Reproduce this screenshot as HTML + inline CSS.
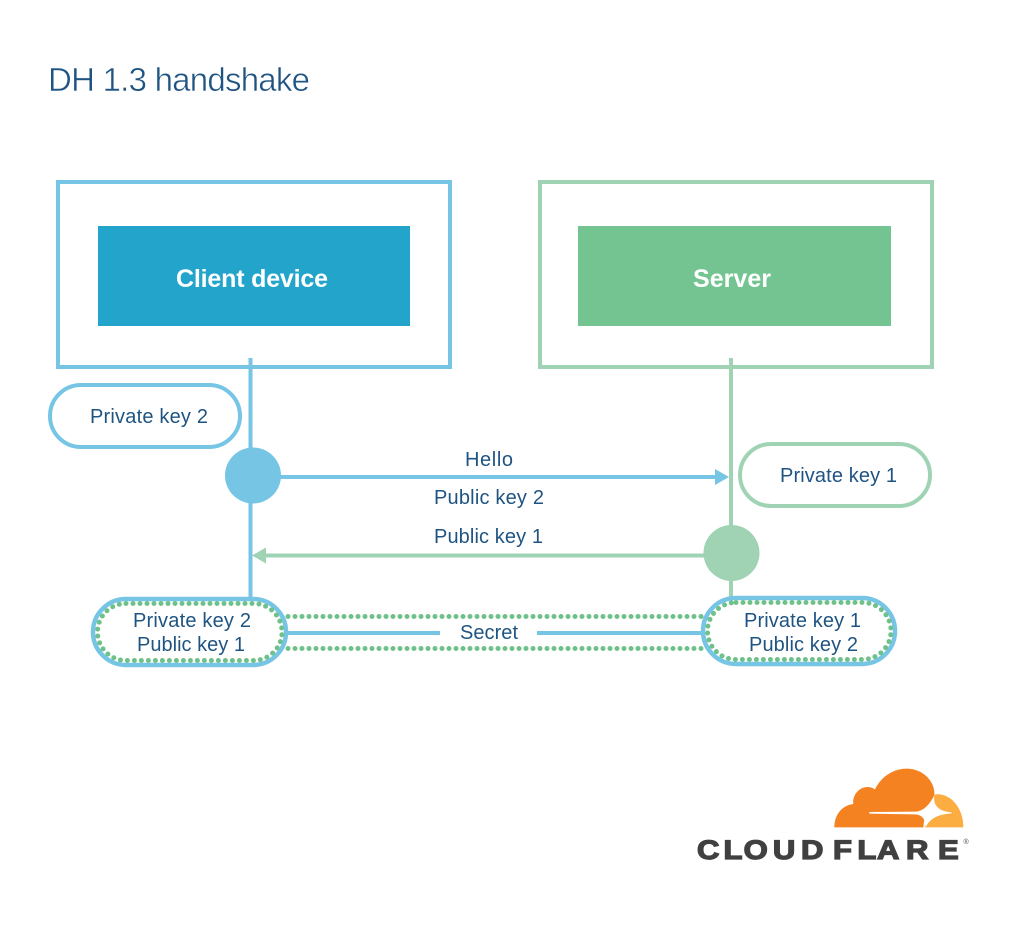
<!DOCTYPE html>
<html>
<head>
<meta charset="utf-8">
<style>
html,body{margin:0;padding:0;background:#fff;}
svg{display:block;}
text{font-family:"Liberation Sans",sans-serif;fill:#1f5482;font-size:20px;}
</style>
</head>
<body>
<svg width="1016" height="936" viewBox="0 0 1016 936" xmlns="http://www.w3.org/2000/svg">
<rect width="1016" height="936" fill="#fff"/>
<text x="48" y="91" style="font-size:33px;stroke:#fff;stroke-width:0.5px" textLength="262" lengthAdjust="spacing">DH 1.3 handshake</text>

<rect x="58" y="182" width="392" height="185" fill="none" stroke="#76c5e5" stroke-width="4"/>
<rect x="98" y="226" width="312" height="100" fill="#22a4cb"/>
<text x="176" y="287" style="font-size:25px;font-weight:bold;fill:#fff" textLength="152" lengthAdjust="spacing">Client device</text>

<rect x="540" y="182" width="392" height="185" fill="none" stroke="#9fd3b4" stroke-width="4"/>
<rect x="578" y="226" width="313" height="100" fill="#73c490"/>
<text x="693" y="287" style="font-size:25px;font-weight:bold;fill:#fff" textLength="78" lengthAdjust="spacing">Server</text>

<rect x="248.500" y="358" width="4" height="242" fill="#76c5e5"/>
<rect x="729" y="358" width="4" height="240" fill="#9fd3b4"/>

<rect x="50" y="385" width="190" height="62" rx="31" fill="#fff" stroke="#76c5e5" stroke-width="4"/>
<text x="90" y="423" textLength="118" lengthAdjust="spacing">Private key 2</text>

<rect x="740" y="444" width="190" height="62" rx="31" fill="#fff" stroke="#9fd3b4" stroke-width="4"/>
<text x="780" y="482" textLength="117" lengthAdjust="spacing">Private key 1</text>

<circle cx="253" cy="475.500" r="28" fill="#76c5e5"/>
<rect x="280" y="475" width="436" height="4" fill="#76c5e5"/>
<polygon points="715,469 729,477 715,485" fill="#76c5e5"/>

<circle cx="731.500" cy="553" r="28" fill="#9fd3b4"/>
<rect x="266" y="553.500" width="440" height="4" fill="#9fd3b4"/>
<polygon points="266,547.500 252,555.500 266,563.500" fill="#9fd3b4"/>

<text x="465" y="466" textLength="48" lengthAdjust="spacing">Hello</text>
<text x="434" y="504" textLength="110" lengthAdjust="spacing">Public key 2</text>
<text x="434" y="543" textLength="109" lengthAdjust="spacing">Public key 1</text>

<line x1="288" y1="616.500" x2="704" y2="616.500" stroke="#6fc18a" stroke-width="5" stroke-linecap="round" stroke-dasharray="0 7"/>
<line x1="288" y1="648.500" x2="704" y2="648.500" stroke="#6fc18a" stroke-width="5" stroke-linecap="round" stroke-dasharray="0 7"/>
<rect x="288" y="631" width="152" height="4" fill="#76c5e5"/>
<rect x="537" y="631" width="166" height="4" fill="#76c5e5"/>
<text x="460" y="639" textLength="58" lengthAdjust="spacing">Secret</text>

<rect x="93" y="599" width="193" height="66" rx="33" fill="#fff" stroke="#76c5e5" stroke-width="4.500"/>
<rect x="97.500" y="603.500" width="184.500" height="57" rx="28.500" fill="none" stroke="#6fc18a" stroke-width="5" stroke-linecap="round" stroke-dasharray="0 7"/>
<text x="133" y="627" textLength="118" lengthAdjust="spacing">Private key 2</text>
<text x="137" y="651" textLength="108" lengthAdjust="spacing">Public key 1</text>

<rect x="703" y="598" width="192" height="66" rx="33" fill="#fff" stroke="#76c5e5" stroke-width="4.500"/>
<rect x="707.500" y="602.500" width="183.500" height="57" rx="28.500" fill="none" stroke="#6fc18a" stroke-width="5" stroke-linecap="round" stroke-dasharray="0 7"/>
<text x="744" y="627" textLength="117" lengthAdjust="spacing">Private key 1</text>
<text x="749" y="651" textLength="109" lengthAdjust="spacing">Public key 2</text>

<g transform="translate(825 762) scale(0.3333)">
<path d="M28 196 C28 160 50 130 85 126 C80 95 115 60 150 82 C170 40 210 20 245 20 C295 20 332 60 328 100 L310 152 L298 170 L295 196 Z" fill="#f58220"/>
<path d="M330 97 C375 92 415 135 415 196 L300 196 L310 150 Z" fill="#fbad41"/>
<path d="M133 150 L270 149 C295 148 312 130 328 100 C324 128 338 148 380 151 L380 154 C340 157 315 168 302 196 C303 178 295 158 270 157 L133 155 Z" fill="#fff"/>
</g>
<text transform="translate(697 859) scale(1.15 1)" x="0 23 40.500 66 90.400 118.300 139.500 156.500 181.700 209.600" y="0" style="font-size:27px;font-weight:bold;fill:#404041;stroke:#404041;stroke-width:1.300px">CLOUDFLARE</text>
<text x="963.500" y="844" style="font-size:7px;fill:#404041">®</text>
</svg>
</body>
</html>
